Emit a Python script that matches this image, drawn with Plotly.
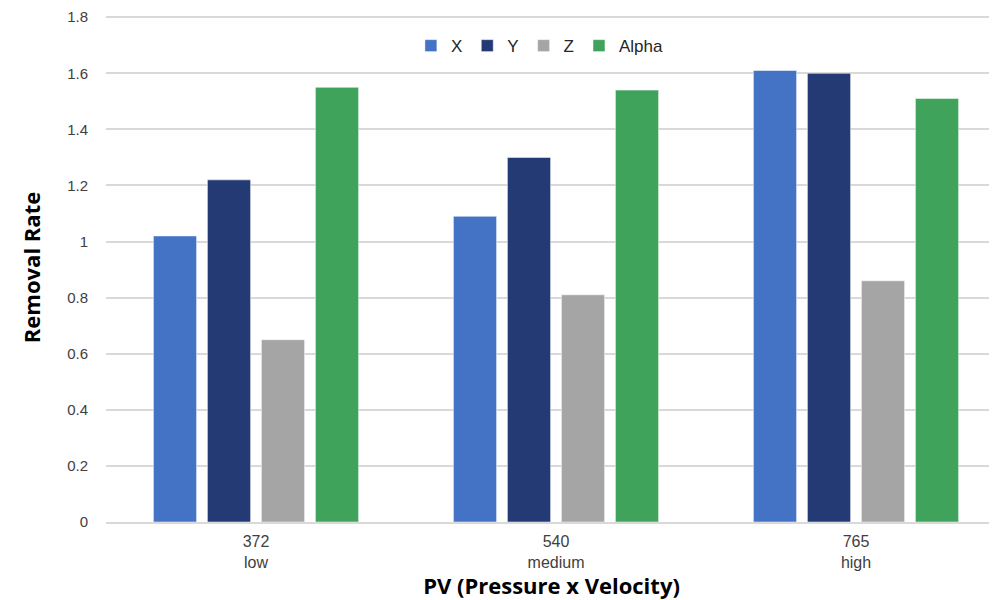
import plotly.graph_objects as go

categories = ["372<br>low", "540<br>medium", "765<br>high"]
series_names = ["X", "Y", "Z", "Alpha"]
x_vals = [1.02, 1.09, 1.61]
y_vals = [1.22, 1.30, 1.60]
z_vals = [0.65, 0.81, 0.86]
alpha_vals = [1.55, 1.54, 1.51]
colors = ["#4472C4", "#243A75", "#A5A5A5", "#3FA35C"]
y_ticks = [0, 0.2, 0.4, 0.6, 0.8, 1, 1.2, 1.4, 1.6, 1.8]
y_tick_text = ["0", "0.2", "0.4", "0.6", "0.8", "1", "1.2", "1.4", "1.6", "1.8"]

fig = go.Figure()
for name, vals, c in zip(series_names, [x_vals, y_vals, z_vals, alpha_vals], colors):
    fig.add_trace(go.Bar(name=name, x=categories, y=vals, marker=dict(color=c, line=dict(color="rgba(255,255,255,0.5)", width=1))))

fig.update_layout(
    width=989, height=592,
    margin=dict(l=98, r=0, t=3, b=78),
    paper_bgcolor="white", plot_bgcolor="white",
    barmode="group", bargap=0.28, bargroupgap=0.2,
    font=dict(family="Liberation Sans, Arial, sans-serif", color="#404040", size=15),
    legend=dict(orientation="h", x=0.487, xanchor="center", y=0.935, yanchor="middle",
                font=dict(size=17, color="#262626"), itemwidth=30, traceorder="normal"),
    xaxis=dict(range=[-0.5, 2.47], showgrid=False, showline=True, linecolor="#D9D9D9", linewidth=2,
               tickfont=dict(size=16, color="#404040"), ticks="outside", ticklen=4, tickcolor="white",
               title=dict(text="PV (Pressure x Velocity)", font=dict(size=22, color="black", family="Open Sans, Liberation Sans, sans-serif", weight="bold"), standoff=9)),
    yaxis=dict(range=[0, 1.815], tickvals=y_ticks, ticktext=y_tick_text, showgrid=True, gridcolor="#D9D9D9", gridwidth=1.5,
               zeroline=False, tickfont=dict(size=15, color="#404040"), ticks="outside", ticklen=14, tickcolor="white",
               ticklabeloverflow="allow",
               title=dict(text="Removal Rate", font=dict(size=22, color="black", family="Liberation Sans Narrow, Open Sans, sans-serif", weight="bold"), standoff=20)),
)
fig.write_html("out.html")
